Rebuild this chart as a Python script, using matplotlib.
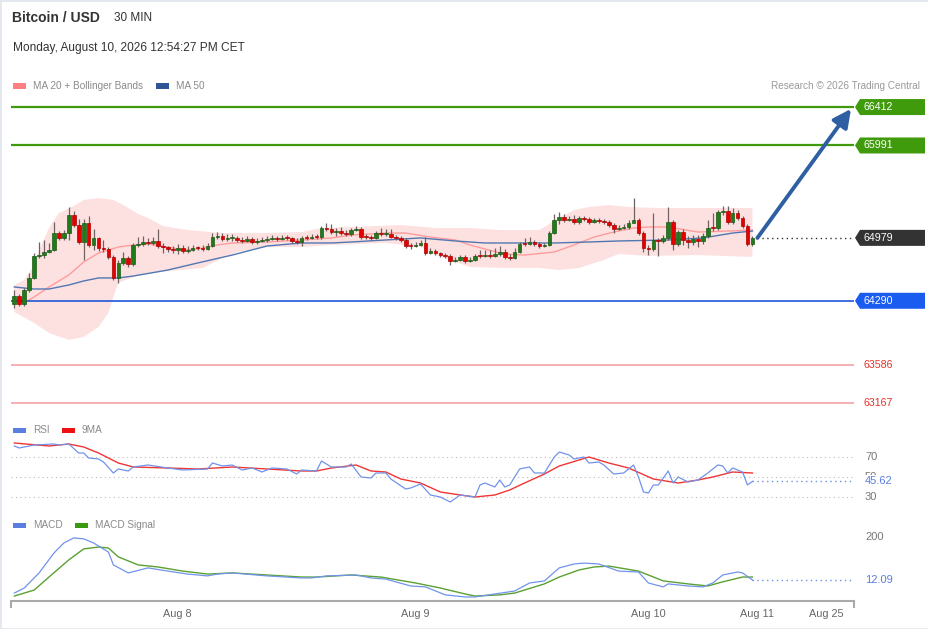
import matplotlib
matplotlib.use('Agg')
import matplotlib.pyplot as plt
import matplotlib.transforms as mtransforms
from matplotlib.patches import Polygon, Rectangle
import numpy as np

plt.rcParams['font.family'] = ['Liberation Sans', 'DejaVu Sans']

# ---- 30 min candles (price) ----
closes = [64343, 64255, 64408, 64540, 64781, 64791, 64824, 64846, 65032, 64978,
          65032, 65229, 65120, 64934, 65142, 64901, 64978, 64868, 64857, 64770,
          64540, 64704, 64759, 64693, 64901, 64912, 64934, 64923, 64945, 64890,
          64879, 64857, 64846, 64868, 64835, 64846, 64868, 64865, 64857, 64890,
          64989, 64999, 64967, 64975, 64978, 64956, 64945, 64967, 64934, 64945,
          64956, 64967, 64978, 64967, 64978, 64975, 64945, 64934, 64978, 64975,
          64989, 64985, 65087, 65076, 65043, 65054, 65032, 65021, 65065, 65076,
          64989, 64985, 64978, 65032, 65021, 65024, 64989, 64978, 64956, 64890,
          64887, 64901, 64923, 64813, 64835, 64813, 64791, 64781, 64726, 64737,
          64770, 64726, 64737, 64781, 64778, 64791, 64781, 64802, 64824, 64770,
          64759, 64824, 64912, 64909, 64934, 64912, 64890, 64901, 65032, 65175,
          65208, 65175, 65186, 65153, 65197, 65186, 65153, 65175, 65164, 65153,
          65120, 65076, 65087, 65098, 65142, 65175, 65032, 64868, 64857, 64956,
          64945, 64978, 65153, 64912, 65043, 64956, 64934, 64967, 64945, 64999,
          65087, 65084, 65262, 65273, 65153, 65251, 65197, 65109, 64912, 64979]
highs = [64408, 64365, 64430, 64595, 64813, 64934, 64956, 64923, 65153, 65054,
         65065, 65317, 65273, 65186, 65186, 65219, 65076, 64989, 64956, 64879,
         64791, 64737, 64824, 64781, 64923, 64989, 64999, 64978, 64989, 65076,
         64923, 64890, 64890, 64912, 64901, 64890, 64901, 64890, 64901, 64923,
         65032, 65043, 65032, 65021, 65021, 64999, 64989, 64999, 64989, 64978,
         64989, 64999, 65010, 64999, 65010, 65010, 64989, 64978, 64999, 65010,
         65021, 65021, 65109, 65142, 65131, 65087, 65098, 65065, 65087, 65109,
         65098, 65021, 65010, 65054, 65087, 65076, 65076, 65010, 64999, 64978,
         64923, 64934, 64956, 64989, 64868, 64857, 64824, 64813, 64802, 64770,
         64791, 64791, 64770, 64802, 64846, 64846, 64846, 64868, 64890, 64857,
         64802, 64868, 64934, 64978, 64989, 64956, 64934, 64923, 65054, 65240,
         65262, 65240, 65219, 65229, 65219, 65219, 65208, 65197, 65197, 65186,
         65175, 65142, 65120, 65131, 65175, 65416, 65197, 65054, 64901, 65251,
         64978, 65010, 65317, 65175, 65065, 65076, 64999, 65010, 65010, 65032,
         65175, 65251, 65284, 65328, 65328, 65306, 65284, 65219, 65131, 64999]
lows = [64211, 64233, 64233, 64387, 64529, 64759, 64759, 64813, 64835, 64956,
        64956, 64956, 65098, 64912, 64737, 64879, 64846, 64835, 64824, 64748,
        64518, 64485, 64682, 64660, 64671, 64879, 64890, 64901, 64901, 64868,
        64813, 64824, 64813, 64802, 64813, 64813, 64835, 64846, 64835, 64846,
        64879, 64967, 64945, 64945, 64945, 64934, 64923, 64934, 64912, 64912,
        64934, 64934, 64956, 64945, 64956, 64956, 64923, 64912, 64890, 64956,
        64967, 64967, 64967, 65054, 65021, 64999, 65010, 64999, 64999, 65054,
        64967, 64967, 64956, 64967, 64999, 64999, 64978, 64956, 64934, 64868,
        64857, 64879, 64890, 64791, 64802, 64791, 64770, 64759, 64682, 64715,
        64726, 64704, 64715, 64726, 64759, 64770, 64759, 64770, 64781, 64748,
        64737, 64748, 64813, 64890, 64901, 64890, 64868, 64879, 64890, 65021,
        65131, 65153, 65164, 65131, 65131, 65164, 65131, 65142, 65142, 65131,
        65098, 65032, 65065, 65076, 65076, 65153, 65010, 64824, 64791, 64835,
        64781, 64923, 64956, 64846, 64890, 64901, 64868, 64901, 64879, 64912,
        64978, 65054, 65065, 65229, 65131, 65131, 65175, 65087, 64890, 64890]
first_open = 64255
opens = [first_open] + closes[:-1]

# overlays (candle index, price)
ma20_idx = [2, 4, 7, 11, 14, 17, 21, 24, 27, 31, 34, 37, 41, 44, 51, 58, 64, 68,
            75, 79, 84, 89, 92, 95, 99, 103, 109, 113, 117, 121, 125, 128, 132,
            138, 144, 149]
ma20_val = [64266, 64332, 64441, 64572, 64715, 64813, 64879, 64901, 64912, 64879,
            64846, 64857, 64901, 64923, 64934, 64956, 64978, 65010, 65032, 65032,
            64988, 64956, 64901, 64857, 64802, 64791, 64824, 64901, 64988, 65043,
            65087, 65098, 65098, 65043, 65054, 65065]
ma50_idx = [0, 4, 7, 11, 14, 17, 21, 24, 31, 37, 44, 51, 58, 64, 68, 75, 82, 89,
            95, 102, 109, 116, 122, 132, 139, 145, 149]
ma50_val = [64441, 64419, 64419, 64463, 64507, 64540, 64540, 64561, 64627, 64704,
            64791, 64890, 64923, 64923, 64934, 64956, 64978, 64945, 64923, 64923,
            64923, 64934, 64945, 64956, 64978, 65032, 65054]
bb_up_idx = [0, 2, 4, 5, 7, 9, 12, 14, 17, 20, 22, 25, 27, 30, 35, 42, 50, 58, 62,
             68, 78, 85, 92, 98, 106, 110, 113, 116, 120, 124, 130, 138, 149]
bb_up_val = [64463, 64518, 64682, 64846, 65087, 65251, 65328, 65394, 65416, 65394,
             65339, 65240, 65197, 65109, 65065, 65032, 65032, 65043, 65087, 65098,
             65120, 65087, 65087, 65065, 65065, 65197, 65284, 65317, 65339, 65317,
             65306, 65306, 65306]
bb_lo_idx = [0, 4, 7, 11, 14, 17, 19, 20, 21, 25, 31, 38, 42, 45, 51, 58, 64, 75,
             82, 85, 89, 92, 99, 106, 110, 114, 119, 122, 128, 138, 149]
bb_lo_val = [64167, 64047, 63937, 63861, 63894, 64003, 64157, 64332, 64485, 64572,
             64616, 64649, 64759, 64824, 64879, 64879, 64901, 64923, 64879, 64791,
             64715, 64660, 64649, 64649, 64627, 64649, 64737, 64802, 64781, 64791,
             64770]

res_levels = [66412, 65991]
pivot_level = 64290
sup_levels = [63586, 63167]

# RSI pane
rsi_idx = [0, 1, 4, 8, 9, 11, 13, 14, 15, 17, 18, 20, 21, 23, 24, 27, 31, 34, 39,
           40, 42, 44, 46, 48, 50, 52, 55, 57, 58, 61, 62, 64, 67, 68, 70, 72, 73,
           75, 76, 79, 80, 82, 84, 86, 88, 90, 93, 94, 95, 97, 98, 99, 100, 102,
           104, 105, 107, 109, 110, 112, 113, 115, 116, 118, 119, 121, 123, 125,
           126, 127, 128, 129, 130, 132, 133, 134, 136, 138, 140, 142, 143, 144,
           145, 147, 148, 149]
rsi_val = [81, 79, 82, 83, 82, 83, 74, 74, 69, 68, 65, 54, 58, 56, 60, 62, 59, 57,
           58, 64, 61, 62, 57, 59, 55, 59, 58, 53, 57, 56, 66, 60, 60, 63, 50, 49,
           54, 54, 48, 38, 39, 43, 32, 30, 25, 32, 30, 42, 44, 40, 47, 40, 42, 58,
           60, 54, 54, 70, 75, 72, 68, 70, 64, 65, 62, 53, 54, 62, 50, 35, 34, 42,
           42, 56, 44, 50, 45, 47, 54, 62, 61, 54, 59, 55, 42, 45.62]
rsi_ma_idx = [0, 7, 11, 14, 17, 21, 24, 31, 37, 44, 51, 58, 61, 64, 69, 72, 75, 78,
              82, 86, 90, 93, 97, 100, 103, 107, 110, 114, 116, 120, 124, 129, 134,
              138, 141, 145, 149]
rsi_ma_val = [84, 81, 83, 80, 74, 64, 60, 59, 58, 60, 58, 56, 56, 59, 62, 56, 55,
              48, 44, 35, 32, 30, 32, 37, 44, 53, 61, 67, 70, 64, 59, 48, 44, 47,
              50, 55, 54]
rsi_grid = [70, 50, 30]

# MACD pane
macd_idx = [0, 2, 5, 8, 10, 12, 14, 16, 19, 20, 23, 27, 31, 35, 39, 41, 44, 51, 58,
            60, 63, 69, 72, 75, 80, 83, 87, 91, 93, 97, 101, 104, 107, 110, 113,
            115, 118, 122, 126, 128, 131, 132, 136, 139, 141, 143, 146, 147, 149]
macd_val = [-45, -23, 43, 130, 174, 196, 192, 174, 134, 78, 43, 65, 51, 38, 30, 38,
            43, 30, 21, 21, 30, 34, 21, 16, -14, -18, -53, -62, -62, -49, -36, -1,
            8, 65, 82, 86, 82, 51, 47, -1, -18, -5, -14, -18, -1, 34, 47, 43, 12.09]
sig_idx = [0, 4, 7, 11, 14, 17, 19, 21, 25, 29, 34, 39, 44, 51, 58, 61, 68, 74, 81,
           86, 91, 93, 98, 101, 107, 110, 114, 117, 120, 126, 131, 136, 140, 143,
           147, 149]
sig_val = [-58, -32, 25, 100, 148, 156, 152, 113, 78, 69, 51, 38, 43, 34, 25, 25,
           34, 25, -1, -23, -49, -58, -53, -45, -5, 25, 56, 69, 73, 51, 8, -5, -14,
           4, 25, 25]
macd_mark = 200

date_ticks = [33, 81, 128, 150, 164]
date_labels = ['Aug 8', 'Aug 9', 'Aug 10', 'Aug 11', 'Aug 25']

# ---- layout ----
W, H = 929, 629
XLIM = (-0.67, 169.5)
fig = plt.figure(figsize=(W / 100, H / 100), dpi=100)


def fx(x):
    return x / W


def fy(y):
    return 1 - y / H


def panel(top, bottom):
    return [fx(11), fy(bottom), 843 / W, (bottom - top) / H]


def axf(x):
    # pixel x -> axes fraction
    return (x - 11) / 843


ax = fig.add_axes(panel(97, 415))
ax_rsi = fig.add_axes(panel(437, 507))
ax_macd = fig.add_axes(panel(520, 601))
for a in (ax, ax_rsi, ax_macd):
    a.set_xlim(*XLIM)
    for s in a.spines.values():
        s.set_visible(False)
    a.set_yticks([])
    a.set_xticks([])
    a.patch.set_alpha(0)

GREEN = '#3f9b0b'
GRAY_TXT = '#8a8a8a'

# price pane
ax.fill(np.r_[bb_up_idx, bb_lo_idx[::-1]], np.r_[bb_up_val, bb_lo_val[::-1]],
        color='#fde1e1', lw=0, zorder=1)
ax.plot(ma20_idx, ma20_val, color='#ff9c9c', lw=1, zorder=2)
ax.plot(ma50_idx, ma50_val, color='#5177b3', lw=1, zorder=2)

x = np.arange(len(closes))
o = np.array(opens)
c = np.array(closes)
up = c >= o
ax.vlines(x, lows, highs, color='#6e6262', lw=0.9, zorder=3)
ax.bar(x, np.maximum(np.abs(c - o), 12), bottom=np.minimum(o, c), width=0.74,
       color=np.where(up, '#237a1c', '#e50000'),
       edgecolor=np.where(up, '#1a5a14', '#b00000'), linewidth=0.5, zorder=4)

for lv in res_levels:
    ax.axhline(lv, color=GREEN, lw=1.6, zorder=2)
ax.axhline(pivot_level, color='#1f56d8', lw=1.2, zorder=2)
for lv in sup_levels:
    ax.axhline(lv, color='#f5a3a3', lw=1.2, zorder=2)

ax.set_ylim(63039, 66522)
per_px = (66522 - 63039) / 318
blend = mtransforms.blended_transform_factory(ax.transAxes, ax.transData)


def tag(price, text, color):
    h = 8 * per_px
    pts = [[axf(855), price], [axf(860), price + h], [axf(925), price + h],
           [axf(925), price - h], [axf(860), price - h]]
    ax.add_patch(Polygon(pts, closed=True, transform=blend, facecolor=color,
                         edgecolor='none', clip_on=False, zorder=6))
    ax.text(axf(864), price, text, transform=blend, color='white', fontsize=7.7,
            va='center', ha='left', clip_on=False, zorder=7)


for lv in res_levels:
    tag(lv, str(lv), GREEN)
tag(pivot_level, str(pivot_level), '#1a5cf0')
tag(closes[-1], str(closes[-1]), '#333333')
for lv in sup_levels:
    ax.text(axf(863), lv, str(lv), transform=blend, color='#e8312a', fontsize=7.7,
            va='center', ha='left', clip_on=False)

ax.plot([len(closes), XLIM[1]], [closes[-1]] * 2, ls=(0, (1, 2.5)), color='#333333',
        lw=1, zorder=3)
ax.annotate('', xy=(XLIM[1] - 0.6, res_levels[0] - 20), xytext=(len(closes), closes[-1]),
            arrowprops=dict(arrowstyle='-|>,head_length=0.9,head_width=0.45',
                            color='#2f5fa3', lw=2.8, mutation_scale=12,
                            shrinkA=0, shrinkB=0), zorder=5)

# RSI pane
ax_rsi.set_ylim(20, 90)
for g in rsi_grid:
    ax_rsi.axhline(g, color='#bdbdbd', ls=(0, (1, 3)), lw=0.8)
ax_rsi.plot(rsi_ma_idx, rsi_ma_val, color='#f03535', lw=1)
ax_rsi.plot(rsi_idx, rsi_val, color='#7193ea', lw=0.9)
ax_rsi.plot([rsi_idx[-1], XLIM[1]], [rsi_val[-1]] * 2, ls=(0, (1, 2.5)),
            color='#6d8fe8', lw=1)
bl_r = mtransforms.blended_transform_factory(ax_rsi.transAxes, ax_rsi.transData)
for g in rsi_grid:
    ax_rsi.text(axf(865), g, str(g), transform=bl_r, color='#777777', fontsize=8,
                va='center', ha='left', clip_on=False)
ax_rsi.text(axf(865), rsi_val[-1], f'{rsi_val[-1]:.2f}', transform=bl_r,
            color='#5b7fe0', fontsize=8, va='center', ha='left', clip_on=False,
            bbox=dict(facecolor='white', edgecolor='none', pad=1.2))

# MACD pane
ax_macd.set_ylim(-79.7, 274.3)
ax_macd.plot(sig_idx, sig_val, color='#5aa132', lw=1)
ax_macd.plot(macd_idx, macd_val, color='#7193ea', lw=0.9)
ax_macd.plot([macd_idx[-1], XLIM[1]], [macd_val[-1]] * 2, ls=(0, (1, 2.5)),
             color='#6d8fe8', lw=1)
bl_m = mtransforms.blended_transform_factory(ax_macd.transAxes, ax_macd.transData)
ax_macd.text(axf(865), macd_mark, str(macd_mark), transform=bl_m, color='#777777',
             fontsize=8, va='center', ha='left', clip_on=False)
ax_macd.text(axf(865), macd_val[-1], f'{macd_val[-1]:.2f}', transform=bl_m,
             color='#5b7fe0', fontsize=8, va='center', ha='left', clip_on=False)

ax_macd.spines['bottom'].set_visible(True)
ax_macd.spines['bottom'].set_color('#aaaaaa')
ax_macd.spines['bottom'].set_linewidth(1.5)
ax_macd.set_xticks(date_ticks)
ax_macd.set_xticklabels(date_labels)
ax_macd.tick_params(axis='x', length=0, pad=6, labelsize=7.8, labelcolor='#666666')
ax_macd.set_xticks(list(XLIM), minor=True)
ax_macd.tick_params(axis='x', which='minor', length=5, width=1.5, color='#aaaaaa')

# header & legends
fig.text(fx(12), fy(18), 'Bitcoin / USD', fontsize=10, fontweight='bold',
         color='#333333', va='center')
fig.text(fx(114), fy(18), '30 MIN', fontsize=8.5, color='#333333', va='center')
fig.text(fx(13), fy(48), 'Monday, August 10, 2026 12:54:27 PM CET', fontsize=8.6,
         color='#333333', va='center')


def legend_item(x0, y, color, label):
    fig.add_artist(Rectangle((fx(x0), fy(y + 2.5)), 13 / W, 5 / H, transform=fig.transFigure,
                             facecolor=color, edgecolor='none'))
    fig.text(fx(x0 + 20), fy(y), label, fontsize=7.2, color=GRAY_TXT, va='center')


legend_item(13, 86, '#ff8080', 'MA 20 + Bollinger Bands')
legend_item(156, 86, '#2f5597', 'MA 50')
legend_item(13, 430, '#5b7fe0', 'RSI')
legend_item(62, 430, '#ee1111', '9MA')
legend_item(13, 525, '#5b7fe0', 'MACD')
legend_item(75, 525, '#3a9a10', 'MACD Signal')
fig.text(fx(920), fy(86), 'Research \u00a9 2026 Trading Central', fontsize=7.2,
         color='#9a9a9a', va='center', ha='right')

fig.add_artist(Rectangle((0, 0), 1, 1, transform=fig.transFigure, fill=False,
                         edgecolor='#e3e8ee', lw=2))

fig.savefig('out.png', dpi=100)
